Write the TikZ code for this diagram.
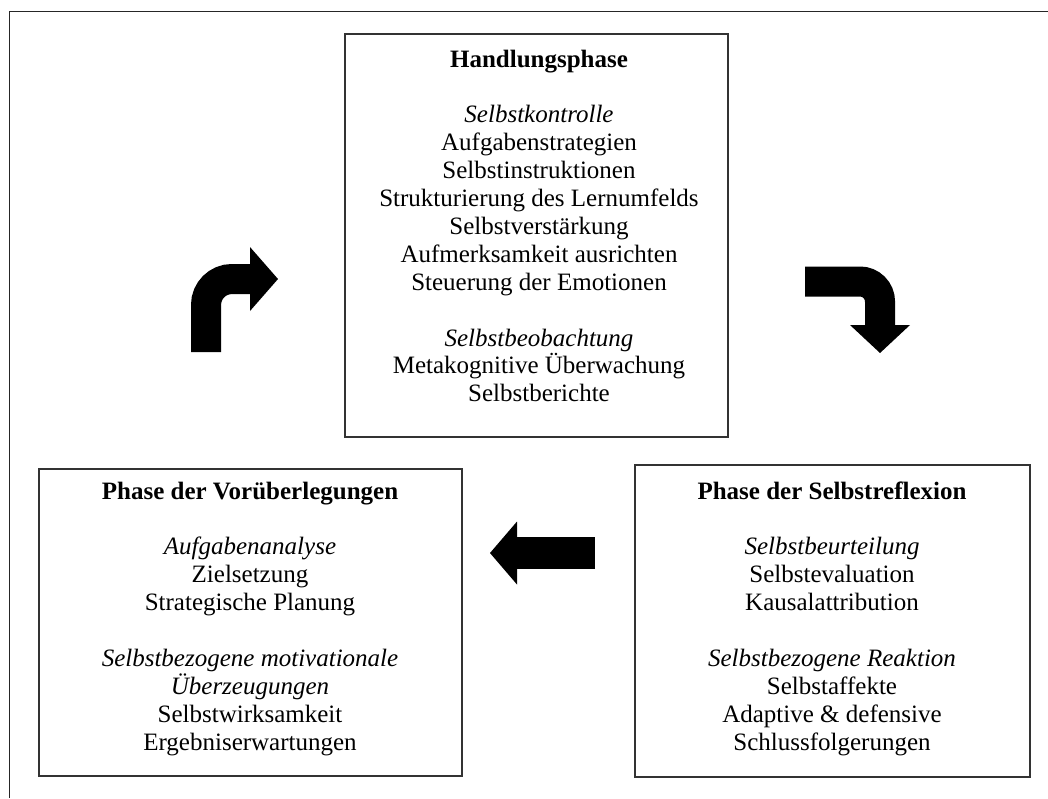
\documentclass[tikz,border=0pt]{standalone}
\usepackage{fontspec}
\setmainfont{Liberation Serif}
\begin{document}
\begin{tikzpicture}[x=1pt,y=-1pt,
  frame/.style={draw=black!85,line width=1.8pt},
  box/.style={draw=black!80,line width=1.8pt,fill=white,inner sep=0pt},
  txt/.style={anchor=base,inner sep=0pt,font=\fontsize{25}{28}\selectfont},
  ttl/.style={txt,font=\fontsize{25}{28}\selectfont\bfseries},
  sub/.style={txt,font=\fontsize{25}{28}\selectfont\itshape},
  shaft/.style={draw=black,line width=30pt},
  head/.style={fill=black}]
\useasboundingbox (0,0) rectangle (1048,798);
\fill[white] (0,0) rectangle (1048,798);
% outer frame (only top and left visible)
\coordinate (fb) at (9.5,798);
\coordinate (fc) at (9.5,11.5);
\coordinate (fr) at (1048,11.5);
\draw[frame] (fb) -- (fc) -- (fr);
% boxes
\node[box,minimum width=383pt,minimum height=403pt] (hb) at (536.5,235.5) {};
\node[box,minimum width=423pt,minimum height=307pt] (lb) at (250.5,622.5) {};
\node[box,minimum width=395pt,minimum height=312pt] (rb) at (832.5,621) {};
% top box text
\node[ttl] (t1) at (539,67) {Handlungsphase};
\node[sub] (t2) at (539,122.8) {Selbstkontrolle};
\node[txt] (t3) at (539,150.7) {Aufgabenstrategien};
\node[txt] (t4) at (539,178.6) {Selbstinstruktionen};
\node[txt] (t5) at (539,206.5) {Strukturierung des Lernumfelds};
\node[txt] (t6) at (539,234.4) {Selbstverstärkung};
\node[txt] (t7) at (539,262.3) {Aufmerksamkeit ausrichten};
\node[txt] (t8) at (539,290.2) {Steuerung der Emotionen};
\node[sub] (t9) at (539,346) {Selbstbeobachtung};
\node[txt] (t10) at (539,373.9) {Metakognitive Überwachung};
\node[txt] (t11) at (539,401.8) {Selbstberichte};
% left box text
\node[ttl] (l1) at (250,499) {Phase der Vorüberlegungen};
\node[sub] (l2) at (250,554.8) {Aufgabenanalyse};
\node[txt] (l3) at (250,582.7) {Zielsetzung};
\node[txt] (l4) at (250,610.6) {Strategische Planung};
\node[sub] (l5) at (250,666.4) {Selbstbezogene motivationale};
\node[sub] (l6) at (250,694.3) {Überzeugungen};
\node[txt] (l7) at (250,722.2) {Selbstwirksamkeit};
\node[txt] (l8) at (250,750.1) {Ergebniserwartungen};
% right box text
\node[ttl] (r1) at (832,499) {Phase der Selbstreflexion};
\node[sub] (r2) at (832,554.8) {Selbstbeurteilung};
\node[txt] (r3) at (832,582.7) {Selbstevaluation};
\node[txt] (r4) at (832,610.6) {Kausalattribution};
\node[sub] (r5) at (832,666.4) {Selbstbezogene Reaktion};
\node[txt] (r6) at (832,694.3) {Selbstaffekte};
\node[txt] (r7) at (832,722.2) {Adaptive \& defensive};
\node[txt] (r8) at (832,750.1) {Schlussfolgerungen};
% arrow up-right (left)
\draw[shaft] (206,352) -- (206,305) .. controls (206,290.6) and (217.6,279) .. (232,279) -- (252,279);
\fill[head] (250,247) -- (278,279) -- (250,311) -- cycle;
% arrow right-down (right)
\draw[shaft] (805,281.5) -- (860,281.5) .. controls (871,281.5) and (880,290.5) .. (880,301.5) -- (880,327);
\fill[head] (850,325) -- (910,325) -- (880,353) -- cycle;
% arrow left (bottom)
\draw[shaft,line width=32pt] (595,553) -- (516,553);
\fill[head] (517,521.5) -- (490,553) -- (517,584.5) -- cycle;
\end{tikzpicture}
\end{document}
